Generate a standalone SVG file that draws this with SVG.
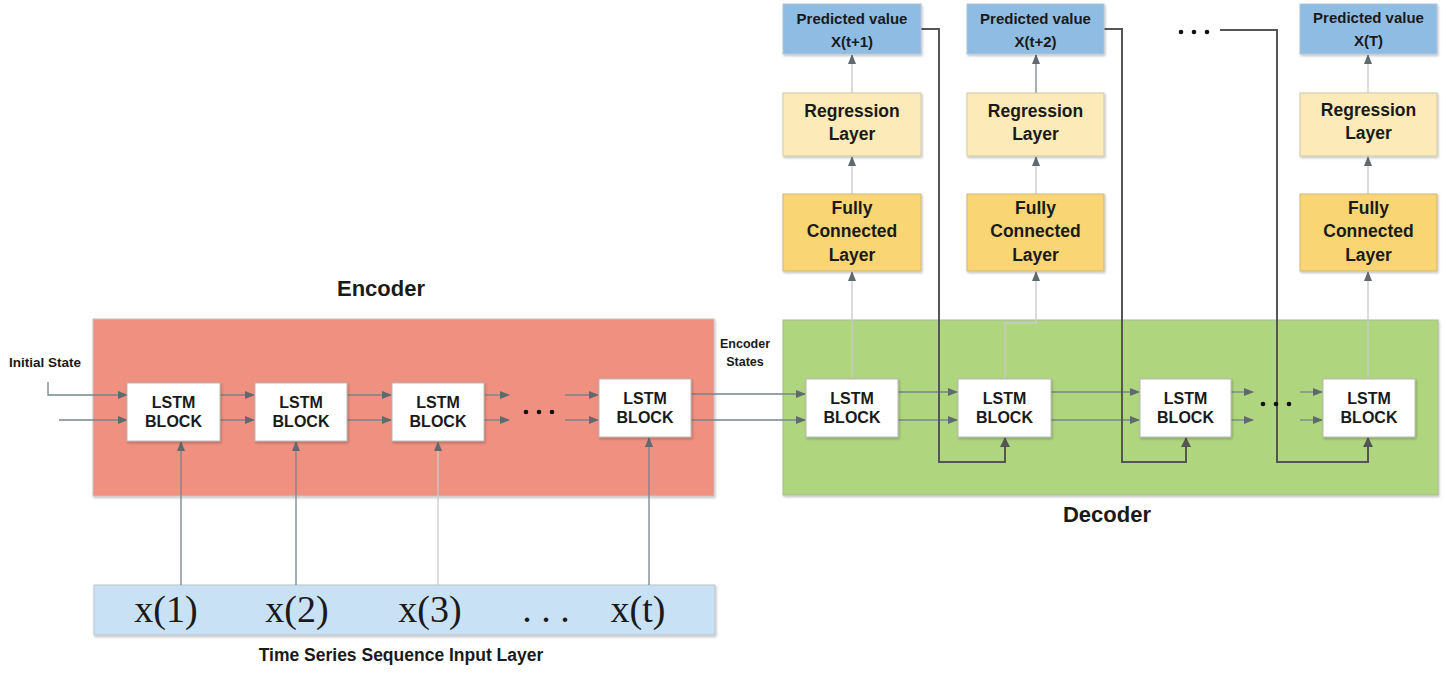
<svg xmlns="http://www.w3.org/2000/svg" width="1446" height="676" viewBox="0 0 1446 676">
<style>
.t{font-family:"Liberation Sans",Arial,sans-serif;font-weight:bold;fill:#1a1a1a;text-anchor:middle;dominant-baseline:central}
.lstm{fill:#ffffff;stroke:#b8b8b8;stroke-width:1;filter:url(#sh)}
.pred{fill:#8FBCE3;stroke:#b0c4d6;stroke-width:1;filter:url(#sh)}
.reg{fill:#FCEBB8;stroke:#cfc6a8;stroke-width:1;filter:url(#sh)}
.fc{fill:#F9D673;stroke:#cdb87c;stroke-width:1;filter:url(#sh)}
.ser{font-family:"Liberation Serif","Times New Roman",serif;font-size:38px;fill:#1a1a1a;text-anchor:middle}
.a{fill:none;stroke:#76858a;stroke-width:1.3;marker-end:url(#ah)}
.lt{fill:none;stroke:#c9c9c9;stroke-width:1.3;marker-end:url(#ah)}
.fba{fill:none;stroke:#555;stroke-width:2;marker-end:url(#ah2)}
</style>
<defs>
<filter id="sh" x="-10%" y="-10%" width="125%" height="130%">
<feDropShadow dx="1" dy="1.5" stdDeviation="1.2" flood-color="#000" flood-opacity="0.25"/>
</filter>
<marker id="ah" markerUnits="userSpaceOnUse" markerWidth="10" markerHeight="8" refX="9" refY="4" orient="auto">
<path d="M0,0 L10,4 L0,8 z" fill="#606a6e"/>
</marker>
<marker id="ah2" markerUnits="userSpaceOnUse" markerWidth="10" markerHeight="10" refX="9" refY="5" orient="auto">
<path d="M0,0 L10,5 L0,10 z" fill="#555"/>
</marker>
</defs>
<rect width="1446" height="676" fill="#ffffff"/>

<g id="encoder">
<rect x="93" y="319" width="621" height="177" fill="#EF9080" stroke="#c9c0bd" stroke-width="1" filter="url(#sh)"/>
<text class="t" x="381" y="288" font-size="22">Encoder</text>
</g>
<g id="decoder">
<rect x="783" y="320" width="655" height="175" fill="#AFD57F" stroke="#a9b99a" stroke-width="1" filter="url(#sh)"/>
<text class="t" x="1107" y="514" font-size="22">Decoder</text>
</g>
<g id="input-layer">
<rect x="94" y="585" width="621" height="50" fill="#C8E1F4" stroke="#b9c5ce" stroke-width="1" filter="url(#sh)"/>
<text class="ser" x="166" y="622">x(1)</text>
<text class="ser" x="297" y="622">x(2)</text>
<text class="ser" x="430" y="622">x(3)</text>
<text class="ser" x="546" y="622">. . .</text>
<text class="ser" x="638" y="622">x(t)</text>
<text class="t" x="401" y="655" font-size="17.5">Time Series Sequence Input Layer</text>
</g>
<g id="label-initial-state"><text class="t" x="45" y="362" font-size="13.5">Initial State</text></g>
<g id="label-encoder-states">
<text class="t" x="745" y="344" font-size="12.5">Encoder</text>
<text class="t" x="745" y="362" font-size="12.5">States</text>
</g>

<g id="connectors">
<path class="a" d="M48,382 V395 H127"/>
<path class="a" d="M59,420 H127"/>
<path class="a" d="M220,395 H254"/>
<path class="a" d="M220,420 H254"/>
<path class="a" d="M347,395 H391"/>
<path class="a" d="M347,420 H391"/>
<path class="a" d="M484,395 H509"/>
<path class="a" d="M484,420 H509"/>
<path class="a" d="M565,395 H598"/>
<path class="a" d="M565,420 H598"/>
<path class="a" d="M691,394 H805"/>
<path class="a" d="M691,420 H805"/>
<path class="a" d="M898,392 H957"/>
<path class="a" d="M898,420 H957"/>
<path class="a" d="M1051,392 H1139"/>
<path class="a" d="M1051,420 H1139"/>
<path class="a" d="M1231,392 H1253"/>
<path class="a" d="M1231,420 H1253"/>
<path class="a" d="M1300,392 H1322"/>
<path class="a" d="M1300,420 H1322"/>
<path class="a" d="M181,585 V442"/>
<path class="a" d="M296,585 V442"/>
<path class="lt" d="M438,585 V442"/>
<path class="a" d="M649,585 V438"/>
<path class="lt" d="M852,378 V272"/>
<path class="lt" d="M852,194 V157"/>
<path class="lt" d="M852,93 V55"/>
<path class="lt" d="M1005,378 V323 H1036 V272"/>
<path class="lt" d="M1036,194 V157"/>
<path class="a" d="M1036,93 V55"/>
<path class="lt" d="M1368,378 V272"/>
<path class="lt" d="M1368,194 V157"/>
<path class="lt" d="M1368,93 V55"/>
<path class="fba" d="M921,29 H939 V462 H1005 V438"/>
<path class="fba" d="M1104,29 H1122 V462 H1186 V438"/>
<path class="fba" d="M1220,30 H1277 V462 H1368 V438"/>
<g fill="#111">
<circle cx="526" cy="412" r="2.3"/><circle cx="539" cy="412" r="2.3"/><circle cx="552" cy="412" r="2.3"/>
<circle cx="1263" cy="404" r="2.3"/><circle cx="1276" cy="404" r="2.3"/><circle cx="1289" cy="404" r="2.3"/>
<circle cx="1181" cy="32" r="2.3"/><circle cx="1194" cy="32" r="2.3"/><circle cx="1207" cy="32" r="2.3"/>
</g>
</g>

<g id="enc-lstm-1"><rect class="lstm" x="127" y="383" width="93" height="58"/><text class="t" x="173.5" y="402" font-size="16">LSTM</text><text class="t" x="173.5" y="421" font-size="16">BLOCK</text></g>
<g id="enc-lstm-2"><rect class="lstm" x="255" y="383" width="92" height="58"/><text class="t" x="301" y="402" font-size="16">LSTM</text><text class="t" x="301" y="421" font-size="16">BLOCK</text></g>
<g id="enc-lstm-3"><rect class="lstm" x="392" y="383" width="92" height="58"/><text class="t" x="438" y="402" font-size="16">LSTM</text><text class="t" x="438" y="421" font-size="16">BLOCK</text></g>
<g id="enc-lstm-t"><rect class="lstm" x="599" y="379" width="92" height="58"/><text class="t" x="645" y="398" font-size="16">LSTM</text><text class="t" x="645" y="417" font-size="16">BLOCK</text></g>
<g id="dec-lstm-1"><rect class="lstm" x="806" y="379" width="92" height="58"/><text class="t" x="852" y="398" font-size="16">LSTM</text><text class="t" x="852" y="417" font-size="16">BLOCK</text></g>
<g id="dec-lstm-2"><rect class="lstm" x="958" y="379" width="93" height="58"/><text class="t" x="1004.5" y="398" font-size="16">LSTM</text><text class="t" x="1004.5" y="417" font-size="16">BLOCK</text></g>
<g id="dec-lstm-3"><rect class="lstm" x="1140" y="379" width="91" height="58"/><text class="t" x="1185.5" y="398" font-size="16">LSTM</text><text class="t" x="1185.5" y="417" font-size="16">BLOCK</text></g>
<g id="dec-lstm-4"><rect class="lstm" x="1323" y="379" width="92" height="58"/><text class="t" x="1369" y="398" font-size="16">LSTM</text><text class="t" x="1369" y="417" font-size="16">BLOCK</text></g>

<g id="pred-1"><rect class="pred" x="783" y="4" width="138" height="50"/><text class="t" x="852" y="18" font-size="15">Predicted value</text><text class="t" x="852" y="41" font-size="15">X(t+1)</text></g>
<g id="pred-2"><rect class="pred" x="967" y="4" width="137" height="50"/><text class="t" x="1035.5" y="18" font-size="15">Predicted value</text><text class="t" x="1035.5" y="41" font-size="15">X(t+2)</text></g>
<g id="pred-3"><rect class="pred" x="1300" y="4" width="137" height="50"/><text class="t" x="1368.5" y="17" font-size="15">Predicted value</text><text class="t" x="1368.5" y="40" font-size="15">X(T)</text></g>

<g id="reg-1"><rect class="reg" x="783" y="93" width="138" height="63"/><text class="t" x="852" y="111" font-size="17.5">Regression</text><text class="t" x="852" y="134" font-size="17.5">Layer</text></g>
<g id="reg-2"><rect class="reg" x="967" y="93" width="137" height="63"/><text class="t" x="1035.5" y="111" font-size="17.5">Regression</text><text class="t" x="1035.5" y="134" font-size="17.5">Layer</text></g>
<g id="reg-3"><rect class="reg" x="1300" y="93" width="137" height="63"/><text class="t" x="1368.5" y="110" font-size="17.5">Regression</text><text class="t" x="1368.5" y="133" font-size="17.5">Layer</text></g>

<g id="fc-1"><rect class="fc" x="783" y="194" width="138" height="77"/><text class="t" x="852" y="208" font-size="17.5">Fully</text><text class="t" x="852" y="231" font-size="17.5">Connected</text><text class="t" x="852" y="255" font-size="17.5">Layer</text></g>
<g id="fc-2"><rect class="fc" x="967" y="194" width="137" height="77"/><text class="t" x="1035.5" y="208" font-size="17.5">Fully</text><text class="t" x="1035.5" y="231" font-size="17.5">Connected</text><text class="t" x="1035.5" y="255" font-size="17.5">Layer</text></g>
<g id="fc-3"><rect class="fc" x="1300" y="194" width="137" height="77"/><text class="t" x="1368.5" y="208" font-size="17.5">Fully</text><text class="t" x="1368.5" y="231" font-size="17.5">Connected</text><text class="t" x="1368.5" y="255" font-size="17.5">Layer</text></g>
</svg>
